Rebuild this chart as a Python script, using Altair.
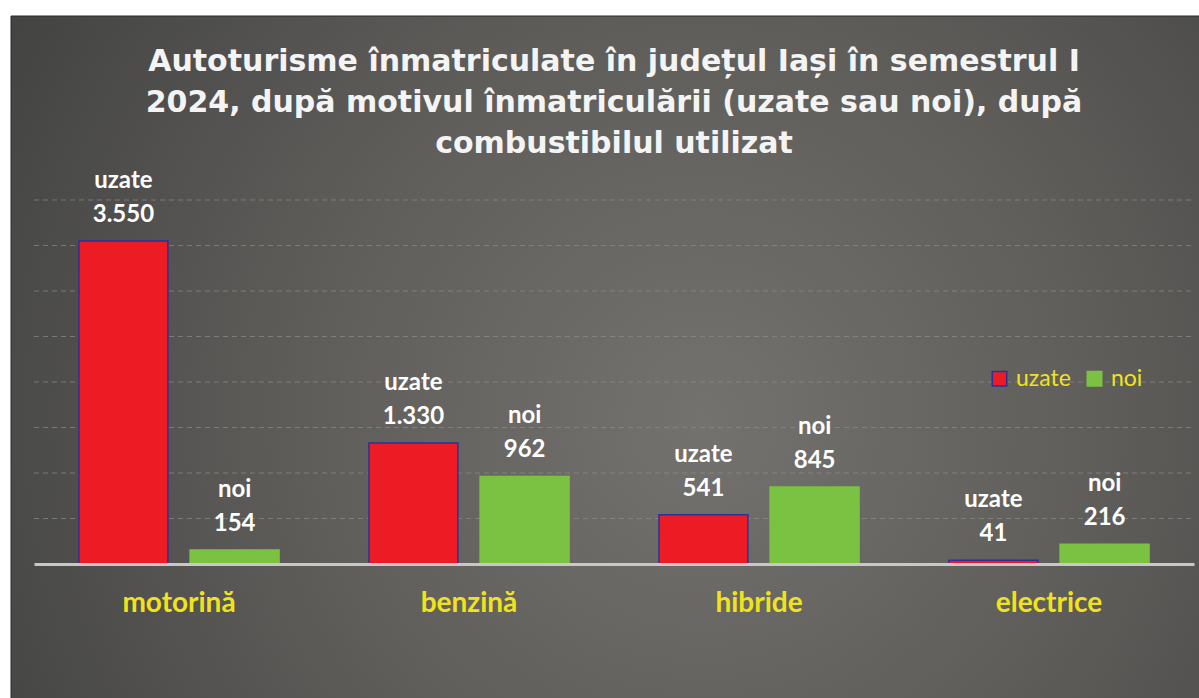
import altair as alt
import pandas as pd

categories = ["motorină", "benzină", "hibride", "electrice"]
series = ["uzate", "noi"]
uzate = [3550, 1330, 541, 41]
noi = [154, 962, 845, 216]
fill_colors = ["#ed1c24", "#7cc242"]
stroke_colors = ["#2e3192", "#7cc242"]
y_ticks = [0, 500, 1000, 1500, 2000, 2500, 3000, 3500, 4000]
title_lines = [
    "Autoturisme înmatriculate în județul Iași în semestrul I",
    "2024, după motivul înmatriculării (uzate sau noi), după",
    "combustibilul utilizat",
]

rows = []
for i, c in enumerate(categories):
    for s, vals in zip(series, [uzate, noi]):
        v = vals[i]
        rows.append({"cat": c, "tip": s, "val": v, "lbl": f"{v:,}".replace(",", ".")})
df = pd.DataFrame(rows)
grid_df = pd.DataFrame({"v": y_ticks[1:]})

W, H = 1160, 364
PL, PT = 34, 200
YELLOW = "#f0e31c"

bg = alt.Chart(alt.Data(values=[{"a": 1}])).mark_rect(
    fill=alt.Gradient(
        gradient="radial",
        stops=[
            alt.GradientStop(color="#73726e", offset=0),
            alt.GradientStop(color="#5e5d5a", offset=0.45),
            alt.GradientStop(color="#3d3d3d", offset=1),
        ],
        x1=0.58, y1=0.55, r1=0, x2=0.58, y2=0.55, r2=0.75,
    ),
    stroke="#2a2a2a",
    strokeWidth=1,
).encode(
    x=alt.value(11 - PL), x2=alt.value(1199 - PL + 5),
    y=alt.value(16 - PT), y2=alt.value(698 - PT + 5),
)

ysc = alt.Scale(domain=[0, 4000])

grid = alt.Chart(grid_df).mark_rule(
    strokeDash=[5, 4], color="#8c8c8a", strokeWidth=1, opacity=0.7
).encode(
    y=alt.Y("v:Q", scale=ysc, axis=None),
    x=alt.value(0), x2=alt.value(W),
)

base = alt.Chart(df)
x_enc = alt.X(
    "cat:N", sort=categories,
    scale=alt.Scale(paddingInner=0.31, paddingOuter=0.155),
    axis=alt.Axis(
        title=None, labelAngle=0, labelFont="Lato", labelFontWeight="bold",
        labelFontSize=28, labelColor=YELLOW, labelPadding=25,
        domainColor="#c8c8c8", domainWidth=3, ticks=False, grid=False, zindex=2,
    ),
)
xo_enc = alt.XOffset("tip:N", sort=series, scale=alt.Scale(paddingInner=0.2))
y_enc = alt.Y("val:Q", scale=ysc, axis=None)

leg = dict(
    title=None, orient="none", legendX=954, legendY=167, direction="horizontal",
    symbolType="square", symbolSize=210, symbolStrokeWidth=1.5,
    labelColor=YELLOW, labelFont="Lato", labelFontSize=23, columnPadding=12,
    labelOffset=5, padding=0, zindex=2,
)

bars = base.mark_bar(strokeWidth=1.5).encode(
    x=x_enc, xOffset=xo_enc, y=y_enc,
    color=alt.Color("tip:N", sort=series,
                    scale=alt.Scale(domain=series, range=fill_colors),
                    legend=alt.Legend(**leg)),
    stroke=alt.Stroke("tip:N", sort=series,
                      scale=alt.Scale(domain=series, range=stroke_colors),
                      legend=alt.Legend(**leg)),
)

num = base.mark_text(
    font="Lato", fontWeight="bold", fontSize=24, color="white",
    baseline="alphabetic", dy=-19,
).encode(x=alt.X("cat:N", sort=categories), xOffset=xo_enc, y=y_enc, text="lbl:N")

word = base.mark_text(
    font="Lato", fontWeight="bold", fontSize=24, color="white",
    baseline="alphabetic", dy=-53,
).encode(x=alt.X("cat:N", sort=categories), xOffset=xo_enc, y=y_enc, text="tip:N")

chart = alt.layer(bg, grid, bars, num, word).properties(
    width=W, height=H,
    autosize=alt.AutoSizeParams(type="none"),
    padding={"left": PL, "top": PT, "right": 5, "bottom": 698 - PT - H},
    background="white",
    title=alt.TitleParams(
        text=title_lines, font="DejaVu Sans", fontSize=30, fontWeight="bold",
        color="#f4f4f4", anchor="middle", frame="group", offset=0, lineHeight=41,
        baseline="bottom", dy=173, zindex=2,
    ),
).configure_view(stroke=None)

chart.save("out.html", embed_options={"renderer": "svg", "actions": False})
